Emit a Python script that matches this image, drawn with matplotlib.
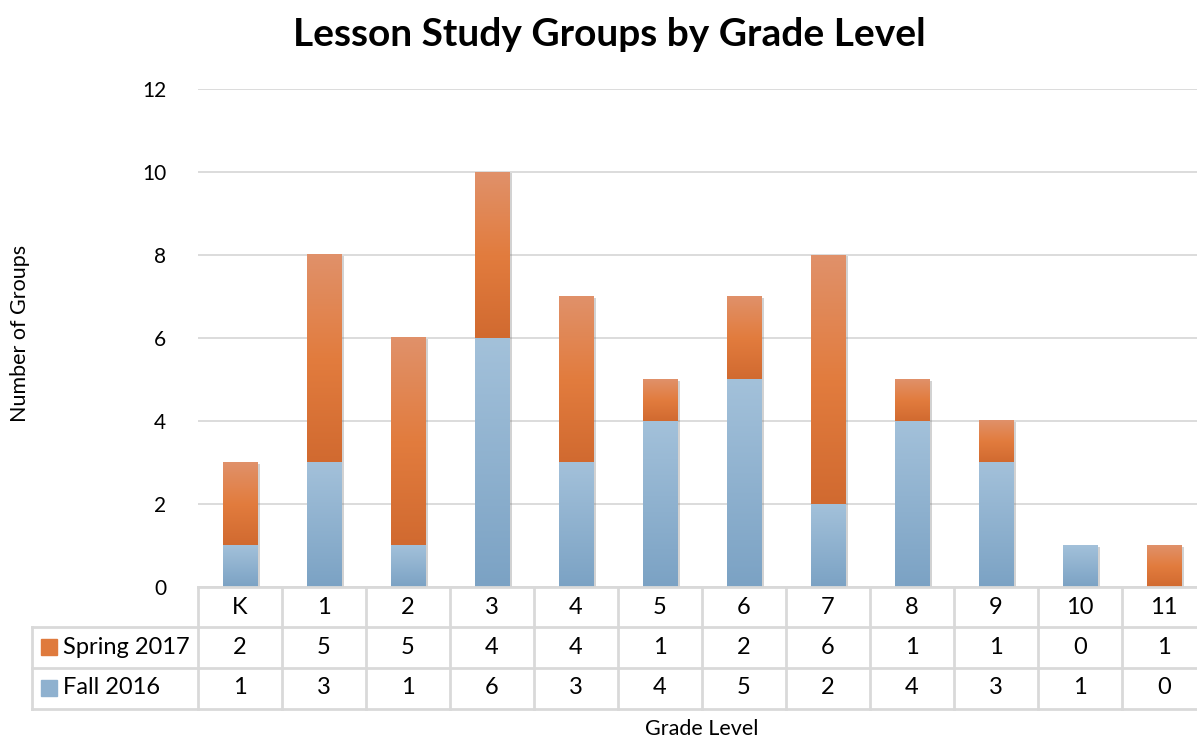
import numpy as np
import matplotlib
matplotlib.use("Agg")
import matplotlib.pyplot as plt
from matplotlib.colors import LinearSegmentedColormap
from matplotlib import patheffects as pe
import matplotlib.transforms as mtrans

plt.rcParams['font.family'] = ['Lato', 'DejaVu Sans']

grades = ['K', '1', '2', '3', '4', '5', '6', '7', '8', '9', '10', '11']
fall_2016 = [1, 3, 1, 6, 3, 4, 5, 2, 4, 3, 1, 0]
spring_2017 = [2, 5, 5, 4, 4, 1, 2, 6, 1, 1, 0, 1]

W, H = 1197, 739
fig = plt.figure(figsize=(W / 100, H / 100), dpi=100)
ax = fig.add_axes([198 / W, (H - 587) / H, 1008 / W, 498 / H])

blue_cmap = LinearSegmentedColormap.from_list('b', ['#7ba2c4', '#a3c1da'])
orange_cmap = LinearSegmentedColormap.from_list('o', ['#d16a30', '#e27c3e', '#e0916a'])
grad = np.linspace(0, 1, 256).reshape(-1, 1)

bw = 0.41
x = np.arange(len(grades))
totals = np.array(fall_2016) + np.array(spring_2017)

# shadows behind bars
shadow = ax.bar(x, totals, width=bw, color='white', zorder=2)
for b in shadow:
    b.set_path_effects([pe.SimplePatchShadow(offset=(2, -1), shadow_rgbFace='gray', alpha=0.35), pe.Normal()])

for i in range(len(grades)):
    f, s = fall_2016[i], spring_2017[i]
    if f > 0:
        ax.imshow(grad, cmap=blue_cmap, origin='lower', aspect='auto',
                  extent=[x[i] - bw / 2, x[i] + bw / 2, 0, f], zorder=3)
    if s > 0:
        ax.imshow(grad, cmap=orange_cmap, origin='lower', aspect='auto',
                  extent=[x[i] - bw / 2, x[i] + bw / 2, f, f + s], zorder=3)

ax.set_xlim(-0.5, len(grades) - 0.5)
ax.set_ylim(0, 12)
ax.set_yticks(range(0, 13, 2))
ax.tick_params(axis='y', length=0, pad=23, labelsize=15)
ax.set_xticks([])
ax.grid(axis='y', color='#d9d9d9', linewidth=1.3, zorder=0)
for sp in ax.spines.values():
    sp.set_visible(False)

# data table underneath
gray = '#d9d9d9'
trans = mtrans.blended_transform_factory(ax.transData, fig.transFigure)
def fy(py):
    return (H - py) / H

row_y = [587, 627, 668, 709]
lx0 = -0.5 - 166 / 84
ax.plot([-0.5, len(grades) - 0.5], [fy(587)] * 2, color=gray, lw=2, transform=trans, clip_on=False, zorder=5)
for yy in row_y[1:]:
    ax.plot([lx0, len(grades) - 0.5], [fy(yy)] * 2, color=gray, lw=2, transform=trans, clip_on=False)
ax.plot([lx0, lx0], [fy(627), fy(709)], color=gray, lw=2, transform=trans, clip_on=False)
for k in range(len(grades) + 1):
    ax.plot([k - 0.5, k - 0.5], [fy(587), fy(709)], color=gray, lw=2, transform=trans, clip_on=False)

fs = 17
for i, g in enumerate(grades):
    ax.text(i, fy(607), g, ha='center', va='center', fontsize=fs, transform=trans)
    ax.text(i, fy(647), str(spring_2017[i]), ha='center', va='center', fontsize=fs, transform=trans)
    ax.text(i, fy(688), str(fall_2016[i]), ha='center', va='center', fontsize=fs, transform=trans)

fig.patches.append(plt.Rectangle((41 / W, fy(655)), 16 / W, 16 / H, color='#df7a3d', transform=fig.transFigure))
fig.patches.append(plt.Rectangle((41 / W, fy(696)), 16 / W, 16 / H, color='#8fb1cf', transform=fig.transFigure))
fig.text(63 / W, fy(647), 'Spring 2017', ha='left', va='center', fontsize=fs)
fig.text(63 / W, fy(688), 'Fall 2016', ha='left', va='center', fontsize=fs)

fig.text(609 / W, fy(34), 'Lesson Study Groups by Grade Level', ha='center', va='center',
         fontsize=28, fontweight='bold')
fig.text(20 / W, fy(333), 'Number of Groups', rotation=90, ha='center', va='center', fontsize=15.5)
fig.text(702 / W, fy(729), 'Grade Level', ha='center', va='center', fontsize=15.5)

fig.savefig('out.png', dpi=100)
